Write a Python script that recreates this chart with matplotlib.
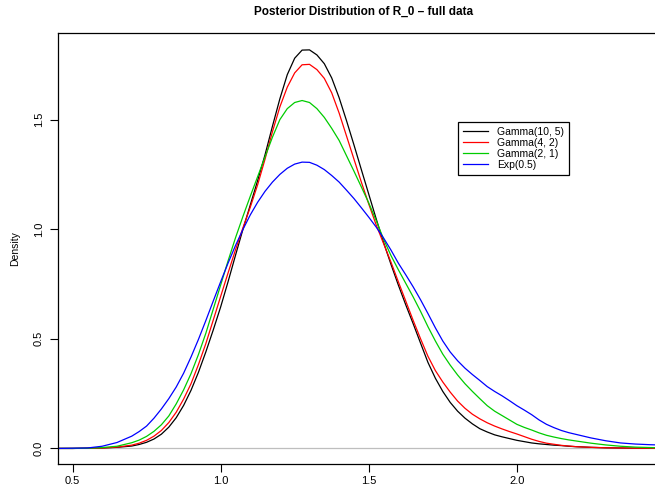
import numpy as np
import matplotlib
matplotlib.use("Agg")
import matplotlib.pyplot as plt

plt.rcParams['font.family'] = ['Liberation Sans', 'DejaVu Sans']

# posterior density of R_0 under each prior, read on a common grid
# (coarse in the tails, finer through the bulk of the mass)
r0_grid = np.round(np.concatenate([
    np.arange(0.45, 0.69, 0.05),
    np.arange(0.70, 2.2001, 0.025),
    np.arange(2.25, 2.501, 0.05),
]), 3)

dens_gamma_10_5 = [
    0.000, 0.000, 0.001, 0.002, 0.005,
    0.011, 0.018, 0.028, 0.043, 0.065, 0.097, 0.140, 0.196, 0.265, 0.347,
    0.440, 0.540, 0.645, 0.760, 0.880, 0.998, 1.110, 1.222, 1.340, 1.470,
    1.595, 1.705, 1.780, 1.817, 1.818, 1.795, 1.755, 1.690, 1.600, 1.495,
    1.385, 1.272, 1.160, 1.048, 0.940, 0.840, 0.745, 0.655, 0.569, 0.480,
    0.392, 0.320, 0.260, 0.210, 0.170, 0.138, 0.112, 0.090, 0.075, 0.062,
    0.053, 0.045, 0.037, 0.031, 0.025, 0.021, 0.018, 0.015, 0.013, 0.010,
    0.008,
    0.005, 0.003, 0.002, 0.001, 0.001, 0.000]
dens_gamma_4_2 = [
    0.000, 0.000, 0.001, 0.002, 0.006,
    0.015, 0.024, 0.037, 0.056, 0.082, 0.118, 0.165, 0.225, 0.295, 0.382,
    0.478, 0.585, 0.693, 0.800, 0.905, 1.005, 1.100, 1.203, 1.320, 1.445,
    1.558, 1.648, 1.713, 1.750, 1.752, 1.728, 1.688, 1.622, 1.530, 1.425,
    1.320, 1.215, 1.115, 1.020, 0.935, 0.850, 0.760, 0.672, 0.584, 0.500,
    0.420, 0.355, 0.303, 0.257, 0.216, 0.183, 0.156, 0.135, 0.117, 0.102,
    0.089, 0.077, 0.066, 0.054, 0.042, 0.032, 0.024, 0.019, 0.014, 0.011,
    0.008,
    0.005, 0.003, 0.002, 0.001, 0.001, 0.000]
dens_gamma_2_1 = [
    0.000, 0.000, 0.001, 0.004, 0.010,
    0.026, 0.038, 0.055, 0.078, 0.108, 0.148, 0.203, 0.267, 0.341, 0.428,
    0.525, 0.635, 0.745, 0.855, 0.960, 1.057, 1.150, 1.240, 1.330, 1.420,
    1.500, 1.550, 1.578, 1.587, 1.578, 1.550, 1.510, 1.460, 1.405, 1.335,
    1.265, 1.193, 1.120, 1.040, 0.955, 0.880, 0.815, 0.753, 0.691, 0.625,
    0.555, 0.490, 0.430, 0.380, 0.335, 0.295, 0.260, 0.227, 0.195, 0.170,
    0.150, 0.130, 0.110, 0.096, 0.084, 0.071, 0.060, 0.052, 0.045, 0.039,
    0.034,
    0.024, 0.016, 0.010, 0.006, 0.004, 0.002]
dens_exp_05 = [
    0.000, 0.001, 0.002, 0.010, 0.027,
    0.056, 0.077, 0.102, 0.138, 0.180, 0.227, 0.280, 0.343, 0.417, 0.497,
    0.583, 0.672, 0.760, 0.845, 0.925, 0.998, 1.065, 1.123, 1.173, 1.215,
    1.250, 1.278, 1.297, 1.306, 1.305, 1.292, 1.272, 1.245, 1.215, 1.178,
    1.140, 1.098, 1.055, 1.010, 0.960, 0.905, 0.845, 0.792, 0.737, 0.678,
    0.615, 0.550, 0.490, 0.440, 0.400, 0.366, 0.337, 0.310, 0.282, 0.260,
    0.240, 0.218, 0.195, 0.175, 0.154, 0.130, 0.110, 0.095, 0.082, 0.072,
    0.064,
    0.048, 0.035, 0.025, 0.020, 0.017, 0.015]

prior_labels = ["Gamma(10, 5)", "Gamma(4, 2)", "Gamma(2, 1)", "Exp(0.5)"]
prior_colors = ["black", "red", "#00cc00", "blue"]

x_ticks = [0.5, 1.0, 1.5, 2.0]
y_ticks = [0.0, 0.5, 1.0, 1.5]

fig = plt.figure(figsize=(6.55, 4.86), dpi=100)
ax = fig.add_axes([58/655, 22/486, 612/655, 431/486])

ax.axhline(0, color="#bebebe", lw=0.9, zorder=1)
for dens, lab, col in zip([dens_gamma_10_5, dens_gamma_4_2, dens_gamma_2_1, dens_exp_05],
                          prior_labels, prior_colors):
    ax.plot(r0_grid, dens, color=col, lw=0.9, label=lab, zorder=2)

ax.set_xlim(0.451, 2.517)
ax.set_ylim(-0.071, 1.895)

ax.set_xticks(x_ticks)
ax.set_xticklabels(["%.1f" % v for v in x_ticks])
ax.set_yticks(y_ticks)
ax.set_yticklabels(["%.1f" % v for v in y_ticks], rotation=90, va="center")
ax.tick_params(direction="out", length=6, width=0.8, labelsize=8)
ax.tick_params(axis="x", pad=2.5)
ax.tick_params(axis="y", pad=4)
for s in ax.spines.values():
    s.set_linewidth(0.9)

ax.set_ylabel("Density", fontsize=7.5, labelpad=10)

fig.text(364/655, 1 - 12/486, "Posterior Distribution of R_0 \u2013 full data",
         ha="center", va="center", fontsize=8.5, fontweight="bold")

leg = ax.legend(loc="upper left", bbox_to_anchor=(458/655, 1 - 122/486),
                bbox_transform=fig.transFigure, fontsize=7.5, frameon=True,
                fancybox=False, edgecolor="black", framealpha=1,
                handlelength=2.4, handletextpad=0.9, labelspacing=0.1,
                borderpad=0.45, borderaxespad=0)
leg.get_frame().set_linewidth(0.9)

fig.savefig("out.png", dpi=100)
